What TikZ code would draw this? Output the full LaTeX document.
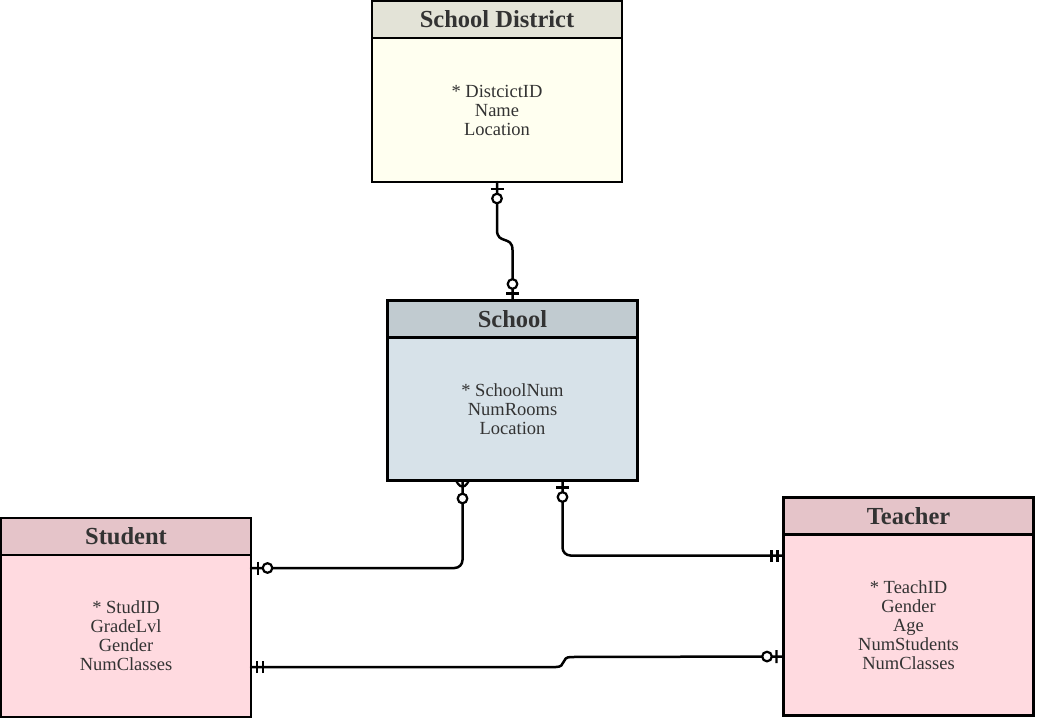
\documentclass[tikz,border=0pt]{standalone}
\usepackage{fontspec}
\setmainfont{Liberation Serif}
\usetikzlibrary{positioning,decorations.markings}
\definecolor{darkgray}{HTML}{333333}
\definecolor{distHead}{HTML}{E3E3D7}
\definecolor{distFill}{HTML}{FFFFF0}
\definecolor{schoolHead}{HTML}{C1CBD0}
\definecolor{schoolFill}{HTML}{D7E2E9}
\definecolor{pinkHead}{HTML}{E5C4C9}
\definecolor{pinkFill}{HTML}{FFDAE0}

\begin{document}
\begin{tikzpicture}[
  x=1pt,y=1pt,
  head/.style={rectangle,draw=black,line width=2.4pt,minimum width=250pt,minimum height=37pt,inner sep=0pt,outer sep=0pt,font=\fontsize{24.5}{26}\selectfont\bfseries,text=darkgray},
  attr/.style={rectangle,draw=black,line width=2.4pt,minimum width=250pt,inner sep=0pt,outer sep=0pt,align=center,font=\fontsize{18.5}{19}\selectfont,text=darkgray},
  rel/.style={line width=2.5pt,line cap=round},
  mk/.style={line width=2.2pt,line cap=butt,draw=black},
  zo start/.style={postaction={decorate,decoration={markings,
    mark=at position 7pt with {\draw[mk] (0,-6.5pt) -- (0,6.5pt);},
    mark=at position 16.5pt with {\draw[mk,fill=white] (0,0) circle (4.8pt);}}}},
  zo end/.style={postaction={decorate,decoration={markings,
    mark=at position -7pt with {\draw[mk] (0,-6.5pt) -- (0,6.5pt);},
    mark=at position -16.5pt with {\draw[mk,fill=white] (0,0) circle (4.8pt);}}}},
  one start/.style={postaction={decorate,decoration={markings,
    mark=at position 6pt with {\draw[mk] (0,-6pt) -- (0,6pt);},
    mark=at position 12pt with {\draw[mk] (0,-6pt) -- (0,6pt);}}}},
  one end/.style={postaction={decorate,decoration={markings,
    mark=at position -6pt with {\draw[mk] (0,-6pt) -- (0,6pt);},
    mark=at position -12pt with {\draw[mk] (0,-6pt) -- (0,6pt);}}}},
  zm start/.style={postaction={decorate,decoration={markings,
    mark=at position 10pt with {\draw[mk] (-9pt,6pt) -- (0,0) -- (-9pt,-6pt);},
    mark=at position 18pt with {\draw[mk,fill=white] (0,0) circle (4.8pt);}}}}
]
\useasboundingbox (0,0) rectangle (1039,-720);

% entities
\node[head,fill=distHead] (districtHead) at (497,-19.5) {School District};
\node[attr,fill=distFill,minimum height=144pt,below=0pt of districtHead] (district) {* DistcictID\\Name\\Location};

\node[head,fill=schoolHead] (schoolHead) at (512.5,-319) {School};
\node[attr,fill=schoolFill,minimum height=143pt,below=0pt of schoolHead] (school) {* SchoolNum\\NumRooms\\Location};

\node[head,fill=pinkHead] (studentHead) at (126,-536.5) {Student};
\node[attr,fill=pinkFill,minimum height=162pt,below=0pt of studentHead] (student) {* StudID\\GradeLvl\\Gender\\NumClasses};

\node[head,fill=pinkHead] (teacherHead) at (908.5,-516) {Teacher};
\node[attr,fill=pinkFill,minimum height=181pt,below=0pt of teacherHead] (teacher) {* TeachID\\Gender\\Age\\NumStudents\\NumClasses};

% relationships
\draw[rel,zo start,zo end] (district.south) -- ++(0,-48) to[out=-90,in=90,looseness=1.5] ++(15.5,-20) -- (schoolHead.north);
\draw[rel,rounded corners=8pt,zm start,zo end] ([xshift=-50pt]school.south) |- ([yshift=68pt]student.east);
\draw[rel,rounded corners=8pt,zo start,one end] ([xshift=50pt]school.south) |- ([yshift=69.5pt]teacher.west);
\draw[rel,one start,zo end] ([yshift=-31pt]student.east) -- ++(305,0) to[out=0,in=180,looseness=1.5] ++(15,10) -- ([yshift=-31.5pt]teacher.west);
\end{tikzpicture}
\end{document}
